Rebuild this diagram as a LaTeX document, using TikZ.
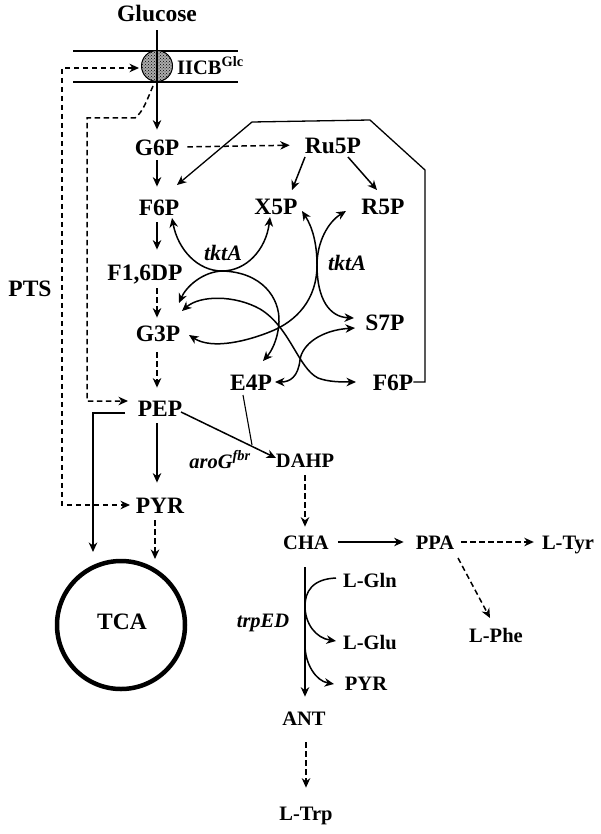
\documentclass[tikz,border=0pt]{standalone}
\usepackage{fontspec}
\setmainfont{Liberation Serif}
\usetikzlibrary{arrows.meta,patterns,calc}
\begin{document}
\begin{tikzpicture}[x=1pt,y=-1pt,
  big/.style={font=\fontsize{23.5}{24}\selectfont\bfseries, inner sep=0pt, text height=16.4pt, text depth=0pt},
  small/.style={font=\fontsize{20.5}{21}\selectfont\bfseries, inner sep=0pt, text height=14.3pt, text depth=0pt},
  enz/.style={font=\fontsize{22}{22}\selectfont\bfseries\itshape, inner sep=0pt, text height=15pt, text depth=0pt},
  enzs/.style={font=\fontsize{20.5}{21}\selectfont\bfseries\itshape, inner sep=0pt, text height=14.3pt, text depth=0pt},
  ln/.style={line width=1.5pt},
  arr/.style={ln, -{Stealth[length=9.5pt,width=8.5pt,inset=3pt]}},
  darr/.style={ln, {Stealth[length=9.5pt,width=8.5pt,inset=3pt]}-{Stealth[length=9.5pt,width=8.5pt,inset=3pt]}},
  dsh/.style={dash pattern=on 5.5pt off 3.5pt}
]
\useasboundingbox (0,0) rectangle (600,834);

% ---------- membrane ----------
\coordinate (m1l) at (73,51);  \coordinate (m1r) at (238,51);
\coordinate (m2l) at (73,82);  \coordinate (m2r) at (238,82);
\draw[ln] (m1l) -- (m1r);
\draw[ln] (m2l) -- (m2r);
\node[circle, draw, line width=1pt, minimum size=31pt, inner sep=0pt,
      preaction={fill=gray!65}, pattern=crosshatch dots] (ptsc) at (157,66) {};

% ---------- labels ----------
\node[big] (glc) at (157,13) {Glucose};
\node[small, anchor=west] (iicb) at (177,67) {IICB\textsuperscript{Glc}};
\node[big] (g6p) at (157,147) {G6P};
\node[big] (f6p) at (159,207) {F6P};
\node[big] (f16dp) at (145,272) {F1,6DP};
\node[big] (g3p) at (158,333) {G3P};
\node[big] (pep) at (160,408) {PEP};
\node[big] (pyr) at (160,505) {PYR};
\node[big] (pts) at (30,288) {PTS};
\node[circle, draw, line width=4.5pt, minimum size=128pt, inner sep=0pt] (tca) at (121,625) {};
\node[big] (tcal) at (122,621) {TCA};
\node[big] (ru5p) at (333,145) {Ru5P};
\node[big] (x5p) at (276,206) {X5P};
\node[big] (r5p) at (383,206) {R5P};
\node[big] (s7p) at (385,322) {S7P};
\node[big] (e4p) at (251,382) {E4P};
\node[big] (f6pr) at (393,382) {F6P};
\node[enz] (tkt1) at (223,253) {tktA};
\node[enz] (tkt2) at (347,263) {tktA};
\node[small] (dahp) at (305,460) {DAHP};
\node[enzs] (arog) at (220,461) {aroG\textsuperscript{fbr}};
\node[small] (cha) at (306,542) {CHA};
\node[small] (ppa) at (435,542) {PPA};
\node[small] (ltyr) at (568,542) {L-Tyr};
\node[small] (lphe) at (496,635) {L-Phe};
\node[small] (lgln) at (370,580) {L-Gln};
\node[small] (lglu) at (370,642) {L-Glu};
\node[small] (pyrb) at (366,683) {PYR};
\node[small] (ant) at (304,718) {ANT};
\node[small] (ltrp) at (306,813) {L-Trp};
\node[enzs] (trped) at (263,620) {trpED};

% ---------- glycolysis ----------
\draw[arr, shorten <=9pt, shorten >=9pt] (glc.south) -- (g6p.north);
\draw[arr, shorten <=5pt, shorten >=12pt] (g6p.south) -- (g6p.south |- f6p.north);
\draw[arr, shorten <=7pt, shorten >=14pt] (g6p.south |- f6p.south) -- (g6p.south |- f16dp.north);
\draw[arr, dsh, shorten <=8pt, shorten >=7pt] (g6p.south |- f16dp.south) -- (g6p.south |- g3p.north);
\draw[arr, dsh, shorten <=11pt, shorten >=12pt] (g6p.south |- g3p.south) -- (g6p.south |- pep.north);
\draw[arr, shorten <=7pt, shorten >=14pt] (g6p.south |- pep.south) -- (g6p.south |- pyr.north);
\coordinate (pyrs) at (155,520);
\coordinate (tcat) at (155,559);
\draw[arr, dsh] (pyrs) -- (tcat);
\coordinate (pepw) at (125,413);
\coordinate (tcal2) at (93,552);
\draw[arr] (pepw) -| (tcal2);

% ---------- PTS dashed lines ----------
\coordinate (ptsin) at (139,68);
\coordinate (pyrin) at (130,505);
\draw[darr, dsh] (ptsin) -- (62,68) -- (62,505) -- (pyrin);
\coordinate (ptsbot) at (153,86);
\coordinate (pepin) at (128,401);
\draw[arr, dsh] (ptsbot) .. controls (147,100) and (143,112) .. (135,118) -- (87,118) -- (87,401) -- (pepin);

% ---------- pentose phosphate ----------
\draw[arr, dsh, shorten <=8pt, shorten >=15pt] (g6p.east) -- (ru5p.west);
\coordinate (ru5pa) at (305,157); \coordinate (x5pt) at (292,190);
\coordinate (ru5pb) at (348,157); \coordinate (r5pt) at (377,190);
\draw[arr] (ru5pa) -- (x5pt);
\draw[arr] (ru5pb) -- (r5pt);
\coordinate (f6pt) at (177,185);
\draw[arr, line width=1.3pt] (f6pr.east) -- (425,382) -- (425,170) -- (370,120) -- (252,122) -- (f6pt);

% tktA left
\coordinate (f6pb) at (172,218); \coordinate (x5pb) at (270,217);
\draw[darr] (f6pb) .. controls (178,250) and (198,271) .. (222,271) .. controls (246,271) and (266,250) .. (x5pb);
\coordinate (g3pa) at (179,303); \coordinate (e4pt) at (263,361);
\draw[darr] (g3pa) .. controls (186,287) and (202,272) .. (222,271) .. controls (262,272) and (280,298) .. (279,322) .. controls (278,340) and (271,352) .. (e4pt);
% tktA right
\coordinate (x5pc) at (302,211); \coordinate (s7pa) at (354,318);
\draw[darr] (x5pc) .. controls (313,228) and (317,245) .. (317,265) .. controls (317,300) and (330,317) .. (s7pa);
\coordinate (r5pc) at (346,211); \coordinate (g3pb) at (189,335);
\draw[darr] (r5pc) .. controls (328,222) and (317,242) .. (317,265) .. controls (317,300) and (296,321) .. (272,331) .. controls (248,341) and (212,350) .. (g3pb);
% transaldolase
\coordinate (g3pc) at (182,311); \coordinate (f6prt) at (356,382);
\draw[darr] (g3pc) .. controls (200,295) and (235,295) .. (260,309) .. controls (290,327) and (298,368) .. (318,378) .. controls (328,382) and (342,382) .. (f6prt);
\coordinate (s7pb) at (355,328); \coordinate (e4pr) at (275,382);
\draw[darr] (s7pb) .. controls (322,330) and (302,344) .. (300,360) .. controls (298,377) and (290,382) .. (e4pr);

% ---------- aromatic pathway ----------
\coordinate (pepe) at (181,412); \coordinate (dahpw) at (276,458);
\draw[arr] (pepe) -- (dahpw);
\coordinate (e4ps) at (243,395); \coordinate (join) at (252,445);
\draw[line width=1.1pt] (e4ps) -- (join);
\draw[arr, dsh, shorten <=8pt, shorten >=8pt] (dahp.south) -- (dahp.south |- cha.north);
\draw[arr, shorten <=9pt, shorten >=12pt] (cha.east) -- (ppa.west);
\draw[arr, dsh, shorten <=7pt, shorten >=8pt] (ppa.east) -- (ltyr.west);
\coordinate (ppas) at (458,558); \coordinate (lphet) at (490,618);
\draw[arr, dsh] (ppas) -- (lphet);
\draw[arr, shorten <=18pt, shorten >=14pt] (cha.south -| 305,0) -- (ant.north -| 305,0);
\draw[arr, dsh, shorten <=17pt, shorten >=18pt] (ant.south -| 306,0) -- (ltrp.north -| 306,0);
\coordinate (lglnw) at (336,578); \coordinate (lgluw) at (336,641);
\draw[arr] (lglnw) .. controls (312,579) and (305,592) .. (305,606) .. controls (305,624) and (316,638) .. (lgluw);
\coordinate (brp) at (305,645); \coordinate (pyrbw) at (334,684);
\draw[arr] (brp) .. controls (305,664) and (316,681) .. (pyrbw);

\end{tikzpicture}
\end{document}
